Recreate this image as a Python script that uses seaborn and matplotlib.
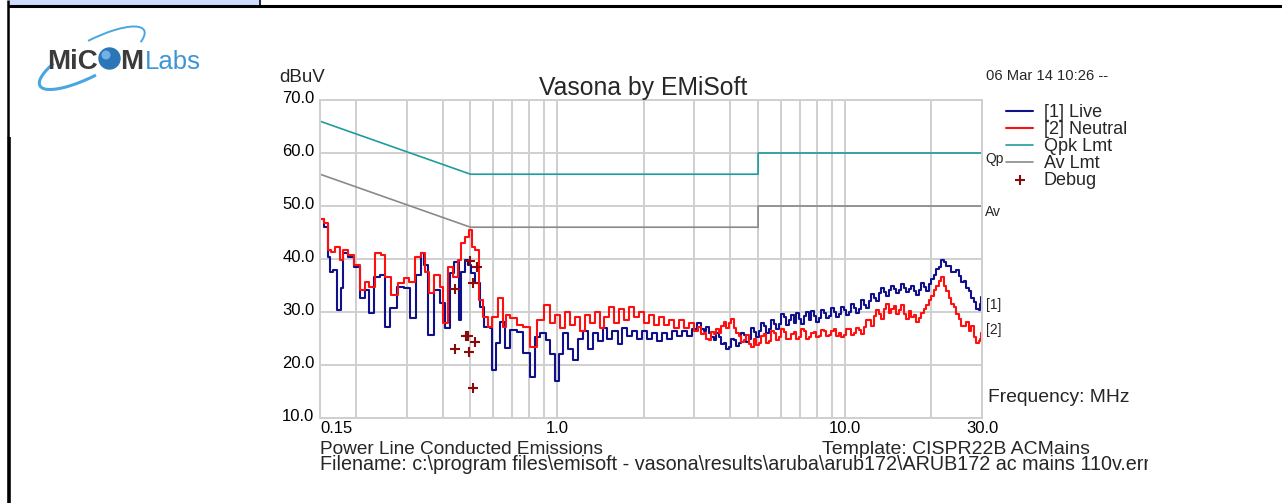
import matplotlib
matplotlib.use('Agg')
import matplotlib.pyplot as plt
import seaborn as sns
from matplotlib.patches import Rectangle, Circle, Arc
from matplotlib.ticker import FixedLocator, NullFormatter
from matplotlib.transforms import Bbox, blended_transform_factory, ScaledTranslation

# [1] Live trace (MHz, dBuV)
live_freq = [0.150, 0.1586, 0.160, 0.165, 0.169, 0.1746, 0.179, 0.183, 0.191, 0.2018,
             0.210, 0.2186, 0.227, 0.237, 0.246, 0.258, 0.269, 0.285, 0.301, 0.316,
             0.329, 0.342, 0.350, 0.362, 0.383, 0.398, 0.415, 0.431, 0.449, 0.460,
             0.471, 0.486, 0.498, 0.510, 0.531, 0.548, 0.571, 0.594, 0.599, 0.624,
             0.644, 0.670, 0.703, 0.743, 0.786, 0.825, 0.852, 0.894, 0.930, 0.960,
             1.000, 1.024, 1.066, 1.110, 1.155, 1.202, 1.251, 1.302, 1.355, 1.410,
             1.468, 1.527, 1.590, 1.655, 1.722, 1.792, 1.866, 1.941, 2.021, 2.103,
             2.188, 2.278, 2.371, 2.467, 2.568, 2.673, 2.782, 2.895, 3.013,
             3.136, 3.199, 3.264, 3.330, 3.397, 3.466, 3.536, 3.607, 3.680, 3.754,
             3.831, 3.908, 3.987, 4.068, 4.150, 4.234, 4.319, 4.406, 4.496, 4.587,
             4.679, 4.774, 4.870, 4.968, 5.069, 5.171, 5.276, 5.383, 5.492, 5.603,
             5.716, 5.831, 5.949, 6.069, 6.192, 6.317, 6.445, 6.575, 6.708, 6.844,
             6.982, 7.123, 7.267, 7.414, 7.564, 7.717, 7.873, 8.032, 8.194, 8.360,
             8.529, 8.701, 8.877, 9.056, 9.240, 9.427, 9.617, 9.811, 10.01, 10.21,
             10.42, 10.63, 10.84, 11.06, 11.29, 11.52, 11.75, 11.99, 12.23, 12.48,
             12.73, 12.99, 13.25, 13.52, 13.79, 14.07, 14.35, 14.64, 14.94, 15.24,
             15.55, 15.86, 16.18, 16.51, 16.84, 17.18, 17.53, 17.88, 18.25, 18.62,
             18.99, 19.37, 19.77, 20.17, 20.58, 21.00, 21.42, 21.85, 22.29, 22.74,
             23.20, 23.67, 24.15, 24.64, 25.14, 25.65, 26.16, 26.69, 27.23, 27.78,
             28.35, 28.92, 29.50, 29.75, 30.0]
live_level = [47.5, 46.0, 40.4, 37.5, 38.0, 30.4, 34.5, 41.1, 40.4, 38.5,
              32.6, 34.2, 29.8, 36.6, 37.0, 27.2, 30.8, 34.7, 34.5, 28.9,
              37.0, 41.1, 38.9, 25.7, 34.2, 31.7, 27.0, 37.3, 39.4, 28.5,
              37.5, 39.8, 38.9, 37.3, 35.5, 31.0, 27.2, 27.0, 19.1, 24.2,
              28.1, 23.2, 26.6, 26.2, 22.3, 17.7, 25.3, 26.0, 24.7, 22.0,
              17.0, 22.0, 26.0, 23.0, 21.0, 25.0, 26.5, 23.0, 26.0, 24.5,
              27.0, 25.0, 26.5, 24.0, 27.0, 25.5, 26.5, 25.0, 26.5, 25.0,
              26.0, 24.5, 26.0, 25.0, 26.5, 25.5, 26.5, 25.5, 26.8,
              27.9, 26.8, 26.4, 27.2, 26.0, 25.2, 24.8, 26.0, 25.3, 24.0,
              24.2, 23.0, 23.4, 25.0, 24.8, 23.6, 24.2, 26.0, 25.6, 24.4,
              25.0, 27.0, 26.2, 25.2, 26.5, 28.0, 27.4, 26.0, 26.8, 28.5,
              27.8, 26.8, 27.7, 29.6, 29.0, 27.6, 28.5, 29.5, 28.0, 29.8,
              28.7, 27.8, 29.2, 30.0, 28.4, 30.2, 29.3, 28.2, 28.8, 30.4,
              29.8, 28.8, 29.2, 30.8, 30.0, 29.0, 29.7, 31.0, 30.3, 29.4,
              30.0, 31.6, 30.8, 29.8, 30.6, 32.2, 31.4, 30.8, 32.0, 33.4,
              32.6, 32.0, 33.6, 34.6, 33.8, 33.0, 34.2, 35.0, 34.4, 33.6,
              34.1, 35.2, 34.6, 33.8, 34.3, 35.0, 34.0, 33.2, 34.2, 35.4,
              34.8, 34.0, 35.3, 36.2, 37.0, 38.2, 38.5, 39.8, 39.4, 38.6,
              38.6, 37.6, 37.5, 38.0, 36.8, 35.6, 35.8, 34.6, 34.0, 32.6,
              31.8, 30.6, 30.4, 31.5, 32.8]

# [2] Neutral trace
neutral_freq = [0.150, 0.1586, 0.160, 0.1665, 0.172, 0.179, 0.183, 0.191, 0.2018, 0.210,
                0.2186, 0.227, 0.239, 0.248, 0.258, 0.273, 0.285, 0.301, 0.313, 0.329,
                0.342, 0.353, 0.367, 0.383, 0.398, 0.408, 0.425, 0.442, 0.460, 0.471,
                0.490, 0.502, 0.510, 0.527, 0.548, 0.562, 0.585, 0.608, 0.634, 0.659,
                0.675, 0.703, 0.743, 0.786, 0.825, 0.873, 0.930, 0.960, 1.000, 1.041,
                1.083, 1.127, 1.174, 1.221, 1.271, 1.323, 1.377, 1.433, 1.491, 1.552,
                1.615, 1.681, 1.750, 1.821, 1.895, 1.973, 2.053, 2.137, 2.224, 2.315,
                2.409, 2.507, 2.609, 2.716, 2.827, 2.942, 3.062,
                3.136, 3.199, 3.264, 3.330, 3.397, 3.466, 3.536, 3.607, 3.680, 3.754,
                3.831, 3.908, 3.987, 4.068, 4.150, 4.234, 4.319, 4.406, 4.496, 4.587,
                4.679, 4.774, 4.870, 4.968, 5.069, 5.171, 5.276, 5.383, 5.492, 5.603,
                5.716, 5.831, 5.949, 6.069, 6.192, 6.317, 6.445, 6.575, 6.708, 6.844,
                6.982, 7.123, 7.267, 7.414, 7.564, 7.717, 7.873, 8.032, 8.194, 8.360,
                8.529, 8.701, 8.877, 9.056, 9.240, 9.427, 9.617, 9.811, 10.01, 10.21,
                10.42, 10.63, 10.84, 11.06, 11.29, 11.52, 11.75, 11.99, 12.23, 12.48,
                12.73, 12.99, 13.25, 13.52, 13.79, 14.07, 14.35, 14.64, 14.94, 15.24,
                15.55, 15.86, 16.18, 16.51, 16.84, 17.18, 17.53, 17.88, 18.25, 18.62,
                18.99, 19.37, 19.77, 20.17, 20.58, 21.00, 21.42, 21.85, 22.29, 22.74,
                23.20, 23.67, 24.15, 24.64, 25.14, 25.65, 26.16, 26.69, 27.23, 27.78,
                28.35, 28.92, 29.50, 29.75, 30.0]
neutral_level = [47.5, 46.8, 41.7, 41.3, 42.3, 39.8, 41.7, 40.8, 38.9, 34.2,
                 35.7, 34.7, 41.1, 40.8, 36.6, 33.2, 35.5, 36.4, 35.7, 40.4,
                 41.1, 37.5, 33.6, 37.0, 34.7, 27.9, 38.5, 36.6, 39.8, 43.0,
                 44.2, 45.5, 42.3, 41.7, 32.3, 29.0, 27.2, 29.0, 32.6, 27.2,
                 29.4, 28.9, 27.5, 27.2, 23.4, 28.5, 31.3, 28.0, 29.5, 27.0,
                 30.0, 27.5, 29.0, 26.5, 29.5, 28.0, 30.0, 27.0, 29.0, 31.0,
                 28.0, 30.5, 28.5, 31.0, 29.0, 30.0, 28.0, 29.5, 27.5, 29.0,
                 27.5, 28.5, 27.0, 28.5, 27.0, 28.0, 26.5,
                 27.2, 25.8, 26.0, 25.0, 24.7, 26.2, 25.8, 26.8, 26.0, 27.4,
                 28.2, 27.0, 28.0, 28.6, 27.0, 26.0, 25.5, 24.4, 24.7, 25.6,
                 24.0, 23.4, 25.0, 23.8, 24.2, 25.4, 25.8, 24.2, 24.6, 26.4,
                 26.0, 24.8, 25.2, 26.8, 26.2, 25.0, 24.9, 25.8, 26.3, 25.0,
                 25.3, 26.8, 26.4, 25.0, 25.2, 26.0, 26.3, 25.2, 25.4, 26.6,
                 26.5, 25.4, 25.6, 26.4, 26.7, 25.5, 26.0, 25.2, 25.6, 26.8,
                 26.8, 25.6, 26.0, 27.0, 26.6, 25.8, 27.2, 28.4, 28.4, 27.4,
                 29.3, 30.4, 29.6, 28.6, 30.5, 31.6, 29.8, 30.6, 31.2, 29.6,
                 30.4, 31.4, 29.6, 28.6, 30.2, 29.0, 29.4, 28.2, 28.9, 29.8,
                 30.5, 31.4, 32.3, 33.0, 34.2, 35.0, 35.8, 36.6, 35.0, 34.0,
                 32.6, 31.6, 31.0, 29.6, 28.6, 27.4, 27.4, 28.2, 26.4, 27.4,
                 25.3, 24.2, 24.6, 25.0, 26.0]

# CISPR 22 class B limits
qpk_freq = [0.15, 0.5, 5.0, 5.0, 30.0]
qpk_level = [66, 56, 56, 60, 60]
av_freq = [0.15, 0.5, 5.0, 5.0, 30.0]
av_level = [56, 46, 46, 50, 50]

# debug markers
debug_freq = [0.442, 0.498, 0.510, 0.527, 0.483, 0.490, 0.519, 0.442, 0.494, 0.510]
debug_level = [34.3, 39.6, 35.5, 38.5, 25.5, 25.5, 24.3, 23.0, 22.5, 15.7]

x_ticks = [0.15, 1.0, 10.0, 30.0]
x_tick_labels = ['0.15', '1.0', '10.0', '30.0']
x_minor = [0.2, 0.3, 0.4, 0.5, 0.6, 0.7, 0.8, 0.9, 2, 3, 4, 5, 6, 7, 8, 9, 20]
y_ticks = [10, 20, 30, 40, 50, 60, 70]
y_tick_labels = ['10.0', '20.0', '30.0', '40.0', '50.0', '60.0', '70.0']

C_LIVE = '#10108a'
C_NEUT = '#ff1010'
C_QPK = '#1f9c9c'
C_AV = '#8a8a8a'
C_DBG = '#8b0a0a'
C_GRID = '#cfcfcf'

sns.set_style('white')
plt.rcParams['font.family'] = ['Liberation Sans', 'DejaVu Sans']

W, H = 1282, 503
fig = plt.figure(figsize=(W / 100, H / 100), dpi=100)

# full-figure canvas in pixel units for the page furniture
canvas = fig.add_axes([0, 0, 1, 1])
canvas.set_xlim(0, W)
canvas.set_ylim(H, 0)
canvas.axis('off')

canvas.add_patch(Rectangle((9, 0), 251, 5.5, color='#cddcff', lw=0))
canvas.plot([8, W], [6, 6], color='black', lw=2.2, solid_capstyle='butt')
canvas.plot([8, 8], [0, 137], color='black', lw=1.8, solid_capstyle='butt')
canvas.plot([8.5, 8.5], [137, H], color='black', lw=2.6, solid_capstyle='butt')
canvas.plot([260, 260], [0, 6], color='black', lw=1.2)

# logo
canvas.add_patch(Arc((92, 58), 118, 34, angle=-28, theta1=105, theta2=200,
                     color='#4aa6e0', lw=2.2))
canvas.add_patch(Arc((92, 58), 118, 34, angle=-28, theta1=285, theta2=370,
                     color='#4aa6e0', lw=1.4))
canvas.text(47, 69, 'MiC', fontsize=20, fontweight='bold', color='#3b3b3b')
canvas.add_patch(Circle((109.5, 58.5), 10.5, color='#2c75b6'))
canvas.add_patch(Circle((106, 55), 4.5, color='#6fb3e6', lw=0))
canvas.text(120, 69, 'M', fontsize=20, fontweight='bold', color='#3b3b3b')
canvas.text(145, 69, 'Labs', fontsize=18.5, color='#3d95d6')

# main plot
ax = fig.add_axes([320 / W, 1 - 418 / H, 662 / W, 318 / H])
ax.set_facecolor('white')

sns.lineplot(x=live_freq, y=live_level, ax=ax, color=C_LIVE, lw=1.5,
             drawstyle='steps-mid', estimator=None, sort=False, label='[1] Live')
sns.lineplot(x=neutral_freq, y=neutral_level, ax=ax, color=C_NEUT, lw=1.5,
             drawstyle='steps-mid', estimator=None, sort=False, label='[2] Neutral')
sns.lineplot(x=qpk_freq, y=qpk_level, ax=ax, color=C_QPK, lw=1.2,
             estimator=None, sort=False, label='Qpk Lmt')
sns.lineplot(x=av_freq, y=av_level, ax=ax, color=C_AV, lw=1.2,
             estimator=None, sort=False, label='Av Lmt')
sns.scatterplot(x=debug_freq, y=debug_level, ax=ax, color=C_DBG, marker='+',
                s=50, linewidth=1.5, label='Debug', zorder=5)

ax.set_xscale('log')
ax.set_xlim(0.15, 30)
ax.set_ylim(10, 70)
ax.xaxis.set_major_locator(FixedLocator(x_ticks))
ax.set_xticklabels(x_tick_labels)
ax.xaxis.set_minor_locator(FixedLocator(x_minor))
ax.xaxis.set_minor_formatter(NullFormatter())
ax.set_yticks(y_ticks)
ax.set_yticklabels(y_tick_labels)
ax.tick_params(which='both', length=0, labelsize=12, colors='black')
ax.tick_params(axis='y', pad=4)
ax.tick_params(axis='x', pad=2)
ax.xaxis.get_majorticklabels()[0].set_horizontalalignment('left')
lift = ScaledTranslation(0, 2.5 / 72, fig.dpi_scale_trans)
for lab in ax.get_yticklabels():
    lab.set_transform(lab.get_transform() + lift)
ax.grid(True, which='both', color=C_GRID, lw=1.4)
ax.set_axisbelow(True)
for sp in ax.spines.values():
    sp.set_color(C_GRID)
    sp.set_linewidth(1.4)
ax.set_xlabel('')
ax.set_ylabel('')

handles, labels = ax.get_legend_handles_labels()
leg = ax.legend(handles, labels, loc='upper left',
                bbox_to_anchor=(1006 / W, 1 - 104 / H), bbox_transform=fig.transFigure,
                frameon=False, fontsize=13, borderpad=0, borderaxespad=0,
                handlelength=1.5, handletextpad=0.6, labelspacing=0.0, markerscale=1.0)

# trace / limit tags at the right edge
tag = blended_transform_factory(ax.transAxes, ax.transData)
ax.text(1.005, 58.9, 'Qp', transform=tag, fontsize=10, va='center')
ax.text(1.005, 48.9, 'Av', transform=tag, fontsize=10, va='center')
ax.text(1.006, 31.3, '[1]', transform=tag, fontsize=10, va='center')
ax.text(1.006, 26.6, '[2]', transform=tag, fontsize=10, va='center')

fig.text(643 / W, 1 - 88 / H, 'Vasona by EMiSoft', fontsize=17.8, ha='center', va='center')
fig.text(279 / W, 1 - 78 / H, 'dBuV', fontsize=13.5, ha='left', va='center')
fig.text(986 / W, 1 - 76 / H, '06 Mar 14 10:26 --', fontsize=10.6, ha='left', va='center')
fig.text(988 / W, 1 - 397 / H, 'Frequency: MHz', fontsize=13.9, ha='left', va='center')
fig.text(320 / W, 1 - 449 / H, 'Power Line Conducted Emissions', fontsize=13.7,
         ha='left', va='center')
fig.text(822 / W, 1 - 449 / H, 'Template: CISPR22B ACMains', fontsize=14,
         ha='left', va='center')
fn = fig.text(320 / W, 1 - 465 / H,
              r'Filename: c:\program files\emisoft - vasona\results\aruba\arub172\ARUB172 ac mains 110v.err',
              fontsize=14.2, ha='left', va='center')
fn.set_clip_box(Bbox([[0, 0], [1148, H]]))
fn.set_clip_on(True)

fig.savefig('out.png', dpi=100)
